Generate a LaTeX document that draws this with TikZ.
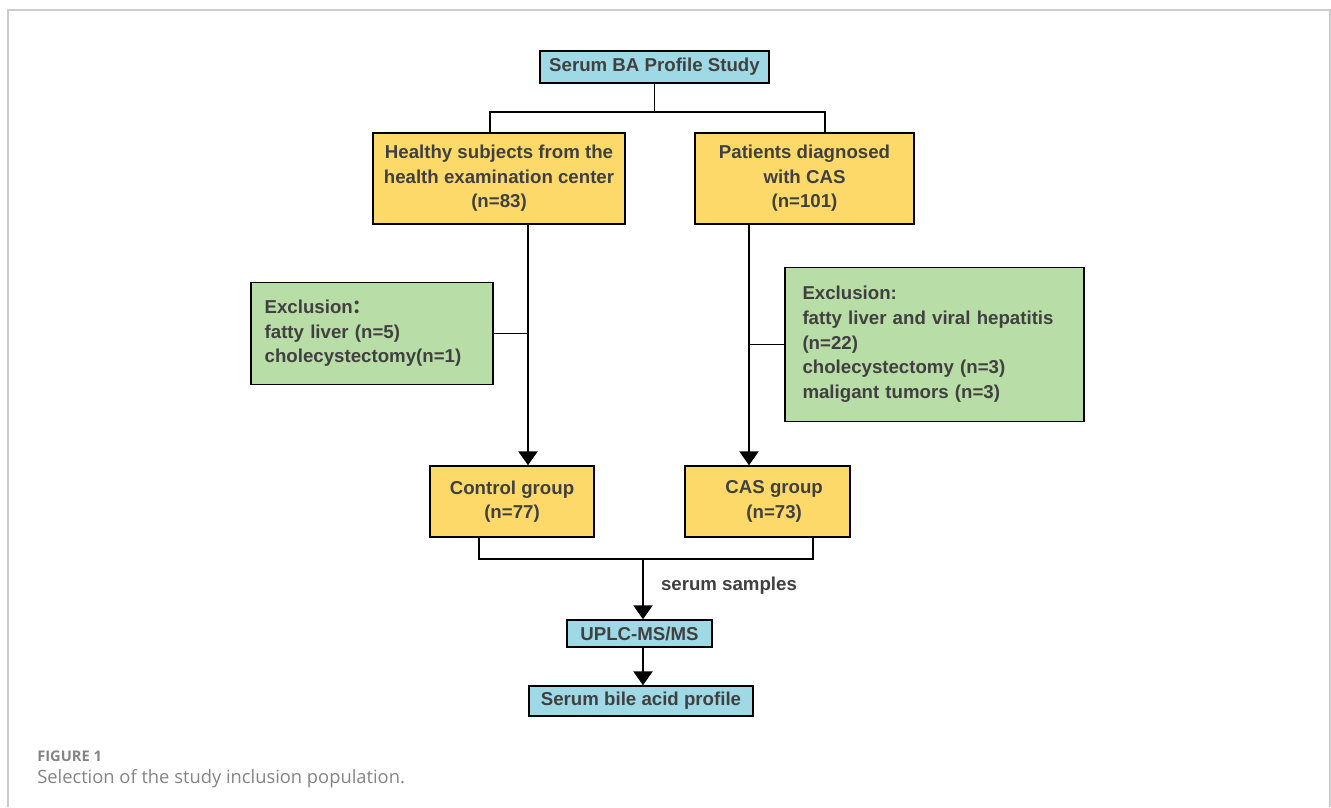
\documentclass[tikz,border=0pt]{standalone}
\usepackage{fontspec}
\setmainfont{Liberation Sans}
\newfontfamily\capfont{Open Sans}
\newfontfamily\cjk{Noto Sans CJK SC}
\usetikzlibrary{arrows.meta}

\definecolor{boxblue}{RGB}{158,217,229}
\definecolor{boxyellow}{RGB}{253,217,106}
\definecolor{boxgreen}{RGB}{184,221,166}
\definecolor{txtgray}{RGB}{64,64,64}
\definecolor{capgray}{RGB}{132,132,132}
\definecolor{framegray}{RGB}{204,204,204}

\tikzset{
  flowbox/.style={rectangle, draw, line width=1.1pt, text=txtgray, font=\fontsize{14}{18.5}\selectfont\bfseries, inner sep=0pt},
  bluebox/.style={flowbox, fill=boxblue},
  yellowbox/.style={flowbox, fill=boxyellow, align=center},
  greenbox/.style={flowbox, fill=boxgreen, align=left},
  arr/.style={-{Triangle[width=14.5pt,length=10.5pt]}, line width=1.1pt},
}

\begin{document}
\begin{tikzpicture}[x=0.75pt, y=-0.75pt]
  \useasboundingbox (0,0) rectangle (1331,807);
  \draw[framegray, line width=1pt] (8,807) -- (8,10) -- (1330,10) -- (1330,807);
  % Nodes
  \node (study) [bluebox, minimum width=171.75pt, minimum height=24pt] at (654.5, 67) {Serum BA Profile Study};
  \node (healthy) [yellowbox, minimum width=189pt, minimum height=68.25pt] at (499, 178.5) {Healthy subjects from the\\health examination center\\(n=83)};
  \node (patients) [yellowbox, minimum width=164.25pt, minimum height=68.25pt] at (804.5, 178.5) {Patients diagnosed\\with CAS\\(n=101)};
  \node (excl-left) [greenbox, minimum width=181.5pt, minimum height=76.5pt, text width=161pt, inner xsep=10pt] at (372, 333.5) {Exclusion{\cjk ：}\\fatty liver (n=5)\\cholecystectomy(n=1)};
  \node (excl-right) [greenbox, minimum width=224pt, minimum height=115.5pt, text width=198pt, inner xsep=12.75pt] at (934.5, 344.5) {Exclusion:\\fatty liver and viral hepatitis\\(n=22)\\cholecystectomy (n=3)\\maligant tumors (n=3)};
  \node (control) [yellowbox, minimum width=123pt, minimum height=53.25pt] at (512, 501.5) {Control group\\(n=77)};
  \node (cas) [yellowbox, minimum width=123.75pt, minimum height=53.25pt] at (767.5, 501.5) {\hspace*{10pt}CAS group\\\hspace*{10pt}(n=73)};
  \node (uplc) [bluebox, minimum width=108.75pt, minimum height=20.25pt] at (639.5, 633.5) {UPLC-MS/MS};
  \node (bile) [bluebox, minimum width=168pt, minimum height=22.5pt] at (641, 701) {Serum bile acid profile};
  \node (samples) [text=txtgray, font=\fontsize{14}{16}\selectfont\bfseries] at (729, 586) {serum samples};
  % Caption
  \node (fig) [anchor=west, inner sep=0pt, text=capgray, font=\capfont\fontsize{11}{13}\selectfont\bfseries] at (37, 756) {FIGURE 1};
  \node (caption) [anchor=west, inner sep=0pt, text=capgray, font=\capfont\fontsize{13.75}{16}\selectfont] at (37, 779) {Selection of the study inclusion population.};
  % Junctions
  \coordinate (split) at (654.5, 112);
  \coordinate (split-l) at (490, 112);
  \coordinate (split-r) at (825, 112);
  \coordinate (down-l) at (528, 224);
  \coordinate (down-r) at (749, 224);
  \coordinate (merge-l) at (479, 559);
  \coordinate (merge-r) at (813, 559);
  \coordinate (merge) at (643, 559);
  % Arrow
  \draw[line width=1.1pt] (study.south) -- (split);
  \draw[line width=1.1pt] (healthy.north -| split-l) -- (split-l) -- (split-r) -- (patients.north -| split-r);
  \draw[arr] (down-l) -- (down-l |- control.north);
  \draw[arr] (down-r) -- (down-r |- cas.north);
  \draw[line width=1.1pt] (excl-left.east) -- (excl-left.east -| down-l);
  \draw[line width=1.1pt] (excl-right.west) -- (excl-right.west -| down-r);
  \draw[line width=1.1pt] (control.south -| merge-l) -- (merge-l) -- (merge-r) -- (cas.south -| merge-r);
  \draw[arr] (merge) -- (merge |- uplc.north);
  \draw[arr] (uplc.south -| merge) -- (merge |- bile.north);
\end{tikzpicture}
\end{document}
